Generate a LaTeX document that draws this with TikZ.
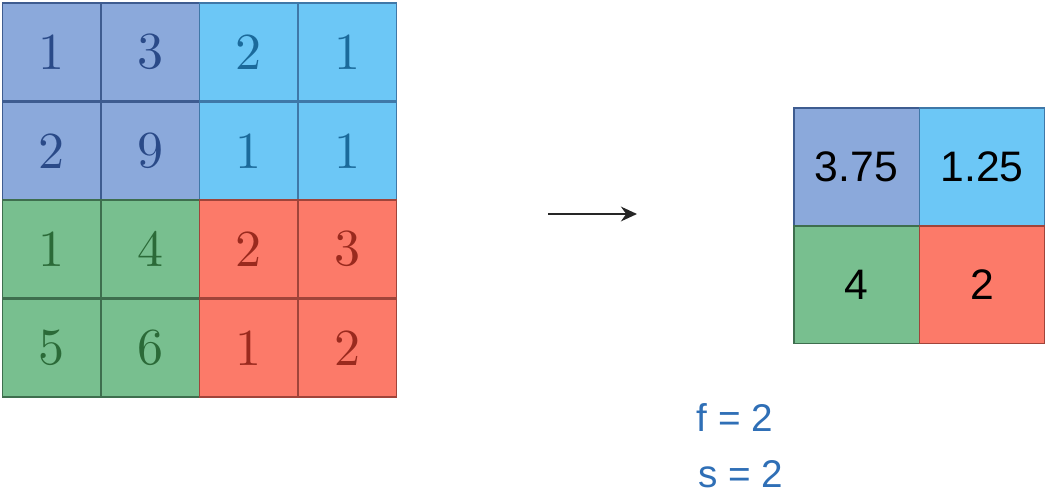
\documentclass[tikz,border=0pt]{standalone}
\usepackage{fontspec}
\newfontfamily\hand{Liberation Sans}
\newfontfamily\lmten{lmroman10-regular.otf}
\usetikzlibrary{arrows.meta}
\definecolor{cA}{HTML}{8BA9DB}
\definecolor{cB}{HTML}{6CC7F6}
\definecolor{cC}{HTML}{78BF8F}
\definecolor{cD}{HTML}{FC7A69}
\definecolor{tA}{HTML}{2A4A88}
\definecolor{tB}{HTML}{1B6A9B}
\definecolor{tC}{HTML}{2B6A38}
\definecolor{tD}{HTML}{9A2A1E}
\definecolor{eA}{HTML}{3E5C90}
\definecolor{eB}{HTML}{3F78A8}
\definecolor{eC}{HTML}{3E6E4E}
\definecolor{eD}{HTML}{A0443A}
\definecolor{ink}{HTML}{2F6FB6}
\begin{document}
\begin{tikzpicture}[x=0.75pt,y=-0.75pt,
  cell/.style={minimum width=73.5pt,minimum height=73.5pt,inner sep=0pt,outer sep=0pt,draw,line width=1pt,font=\lmten\fontsize{39}{41}\selectfont},
  ocell/.style={minimum width=94pt,minimum height=88pt,inner sep=0pt,outer sep=0pt,draw,line width=1pt,font=\hand\fontsize{32}{34}\selectfont},
  note/.style={text=ink,font=\hand\fontsize{29}{31}\selectfont,inner sep=0pt}]
\useasboundingbox (0,0) rectangle (1047,500);
% input grid
\node[cell,fill=cA,draw=eA,text=tA] (a11) at (51.5,52) {1};
\node[cell,fill=cA,draw=eA,text=tA] (a12) at (150.5,52) {3};
\node[cell,fill=cA,draw=eA,text=tA] (a21) at (51.5,151) {2};
\node[cell,fill=cA,draw=eA,text=tA] (a22) at (150.5,151) {9};
\node[cell,fill=cB,draw=eB,text=tB] (a13) at (248.5,52) {2};
\node[cell,fill=cB,draw=eB,text=tB] (a14) at (347.5,52) {1};
\node[cell,fill=cB,draw=eB,text=tB] (a23) at (248.5,151) {1};
\node[cell,fill=cB,draw=eB,text=tB] (a24) at (347.5,151) {1};
\node[cell,fill=cC,draw=eC,text=tC] (a31) at (51.5,249) {1};
\node[cell,fill=cC,draw=eC,text=tC] (a32) at (150.5,249) {4};
\node[cell,fill=cC,draw=eC,text=tC] (a41) at (51.5,348) {5};
\node[cell,fill=cC,draw=eC,text=tC] (a42) at (150.5,348) {6};
\node[cell,fill=cD,draw=eD,text=tD] (a33) at (248.5,249) {2};
\node[cell,fill=cD,draw=eD,text=tD] (a34) at (347.5,249) {3};
\node[cell,fill=cD,draw=eD,text=tD] (a43) at (248.5,348) {1};
\node[cell,fill=cD,draw=eD,text=tD] (a44) at (347.5,348) {2};
% output grid
\node[ocell,fill=cA,draw=eA] (b11) at (856.5,166.5) {3.75};
\node[ocell,fill=cB,draw=eB] (b12) at (982,166.5) {1.25};
\node[ocell,fill=cC,draw=eC] (b21) at (856.5,284.5) {4};
\node[ocell,fill=cD,draw=eD] (b22) at (982,284.5) {2};
% arrow
\coordinate (p) at (548,214);
\coordinate (q) at (637,214);
\draw[line width=1.9pt,draw=black!85,-{Stealth[length=12pt,width=11pt]}] (p) -- (q);
% notes
\node[note] (f) at (735,418) {f = 2};
\node[note] (s) at (741,474) {s = 2};
\end{tikzpicture}
\end{document}
